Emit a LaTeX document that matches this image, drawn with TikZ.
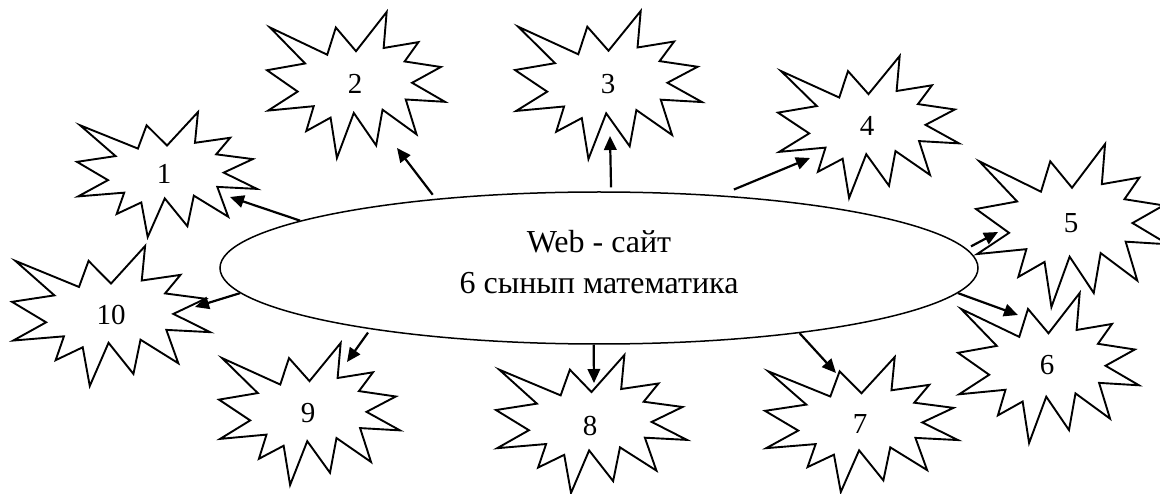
\documentclass[tikz,border=0pt]{standalone}
\usepackage{fontspec}
\setmainfont{Liberation Serif}
\usetikzlibrary{shapes.geometric,arrows.meta}

% outline of an explosion callout in a 100 x 100 box (y grows downward)
\def\burstpath{(50,26.85) -- (67.23,0) -- (65.53,24.65) -- (85.09,20.63) -- (77.32,33.87)
  -- (97.67,37.67) -- (81.51,48.50) -- (100,61.53) -- (77.95,59.92) -- (84.00,83.77)
  -- (64.91,66.93) -- (61.33,91.38) -- (48.76,69.14) -- (39.28,100) -- (35.72,72.35)
  -- (22.05,81.56) -- (26.24,64.52) -- (0.63,67.53) -- (17.23,54.51) -- (0,39.88)
  -- (21.42,35.26) -- (1.71,10.63) -- (33.85,29.26) -- (38.67,10.63) -- cycle}

% #1 name, #2 #3 top-left corner, #4 width, #5 height, #6 #7 label position, #8 label
\newcommand\drawburst[8]{%
  \begin{scope}[shift={(#2,#3)},xscale=#4/100,yscale=#5/100]
    \path[burstline] \burstpath;
  \end{scope}
  \node[numlabel] (#1) at (#6,#7) {#8};}

\tikzset{
  burstline/.style={draw=black, fill=white, line width=1.9pt},
  numlabel/.style={font=\fontsize{29}{33}\selectfont, inner sep=0pt},
  arr/.style={line width=2.2pt, -{Triangle[length=14pt,width=12.5pt]}},
  hub/.style={ellipse, draw, fill=white, line width=1.5pt, minimum width=758pt,
    minimum height=152pt, inner sep=0pt},
  hubtext/.style={align=center, inner sep=0pt, font=\fontsize{32}{41}\selectfont},
}

\begin{document}
\begin{tikzpicture}[x=1pt,y=-1pt]
\useasboundingbox (0,0) rectangle (1160,494);
\clip (0,0) rectangle (1160,494);

\drawburst{s1}{77}{112}{180}{125}{164}{174}{1}
\drawburst{s2}{267}{12}{178}{146}{355}{84}{2}
\drawburst{s3}{515}{11}{187}{148}{608}{84}{3}
\drawburst{s4}{778}{56}{181}{142}{867}{126}{4}
\drawburst{s5}{976}{144}{192}{163}{1071}{223}{5}
\drawburst{s6}{958}{293}{181}{150}{1047}{365}{6}
\drawburst{s7}{765}{357}{193}{135}{860}{424}{7}
\drawburst{s8}{496}{355}{191}{138}{590}{426}{8}
\drawburst{s9}{219}{343}{181}{142}{308}{413}{9}
\drawburst{s10}{12}{246}{198}{140}{111}{315}{10}

\node[hub] (e) at (599,268) {};
\node[hubtext] (etext) at ([yshift=6pt]e.center) {Web - сайт\\6 сынып математика};

\coordinate (t1) at (230,197);
\coordinate (t2) at (397,148);
\coordinate (t3) at (610,136);
\coordinate (t4) at (810,158);
\coordinate (t5) at (998,232);
\coordinate (t6) at (1018,315);
\coordinate (t7) at (836,373);
\coordinate (t8) at (594,383);
\coordinate (t9) at (347,362);
\coordinate (t10) at (195,307);

\draw[arr] (e.171.7) -- (t1);
\draw[arr, shorten <=5pt] (e.157.7) -- (t2);
\draw[arr, shorten <=4pt] (e.81.8) -- (t3);
\draw[arr, shorten <=15pt] (e.31) -- (t4);
\draw[arr, shorten <=5pt] (e.3.1) -- (t5);
\draw[arr] (e.356.3) -- (t6);
\draw[arr] (e.342.9) -- (t7);
\draw[arr] (e.266.2) -- (t8);
\draw[arr, shorten <=4pt] (e.195.1) -- (t9);
\draw[arr] (e.184.85) -- (t10);
\end{tikzpicture}
\end{document}
